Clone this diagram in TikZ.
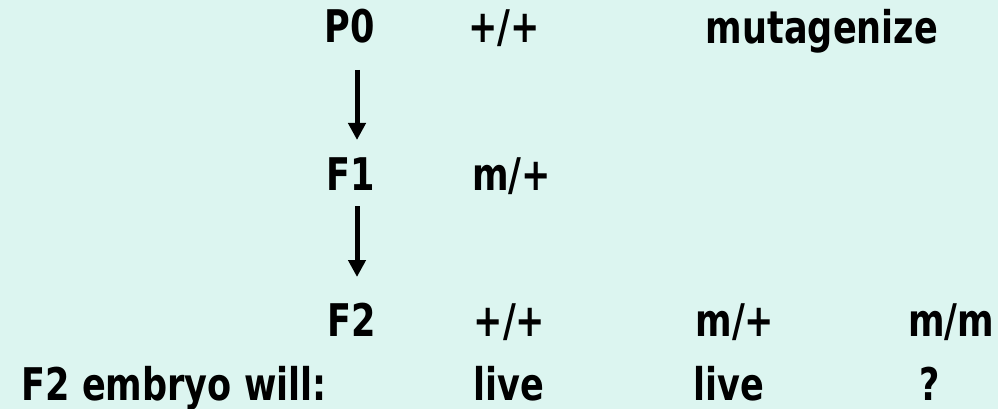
\documentclass[tikz,border=0pt]{standalone}
\usepackage{fontspec}
\setmainfont{DejaVu Sans}[BoldFont={DejaVu Sans Bold},FakeStretch=0.78]
\usetikzlibrary{arrows.meta}
\definecolor{bgmint}{RGB}{220,245,240}
\begin{document}
\begin{tikzpicture}[x=1pt,y=-1pt,
  lbl/.style={anchor=base,inner sep=0pt,font=\fontsize{45}{50}\selectfont\bfseries},
  arr/.style={line width=5pt,-{Triangle[width=17pt,length=17pt]}}]
\fill[bgmint] (0,0) rectangle (998,409);
\useasboundingbox (0,0) rectangle (998,409);
% row 1
\node[lbl] (p0) at (350,43) {P0};
\node[lbl] (g0) at (504,43) {+/+};
\node[lbl] (mut) at (822,44) {mutagenize};
% row 2
\node[lbl] (f1) at (350.5,190) {F1};
\node[lbl] (g1) at (511.5,190) {m/+};
% row 3
\node[lbl] (f2) at (352,336) {F2};
\node[lbl] (g2a) at (509.5,336) {+/+};
\node[lbl] (g2b) at (735,336) {m/+};
\node[lbl] (g2c) at (951,336) {m/m};
% row 4
\node[lbl] (emb) at (174,400) {F2 embryo will:};
\node[lbl] (l1) at (508.5,400) {live};
\node[lbl] (l2) at (728.5,400) {live};
\node[lbl] (q) at (930,400) {?};
% arrows
\coordinate (a1s) at (357,70);
\coordinate (a1e) at (357,140);
\coordinate (a2s) at (357,206);
\coordinate (a2e) at (357,277);
\draw[arr] (a1s) -- (a1e);
\draw[arr] (a2s) -- (a2e);
\end{tikzpicture}
\end{document}
